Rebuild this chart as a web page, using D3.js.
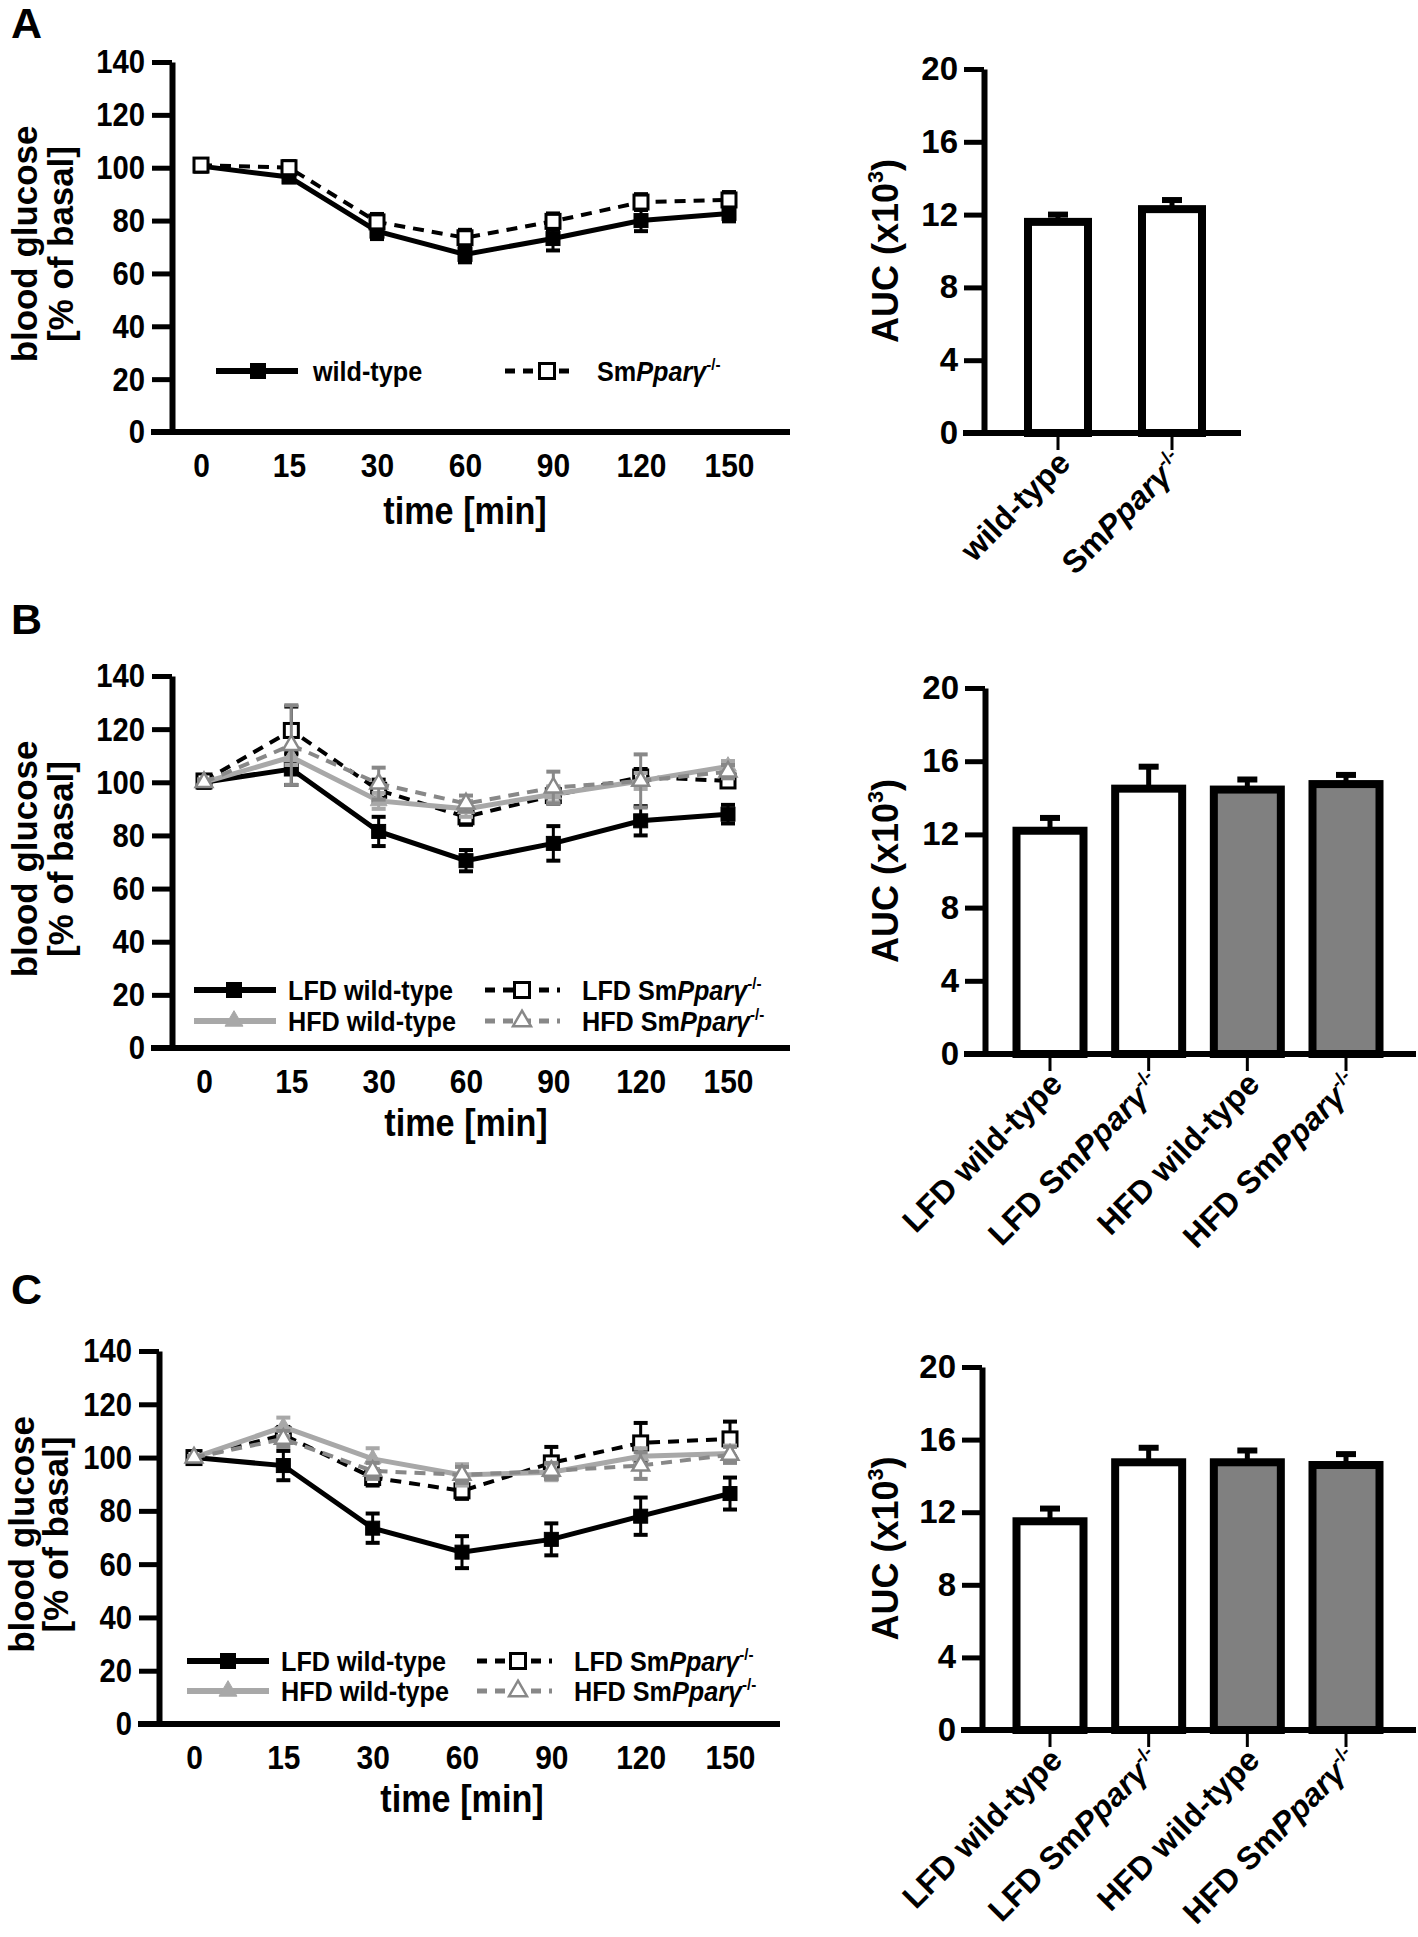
<!DOCTYPE html>
<html><head><meta charset="utf-8">
<script src="https://cdn.jsdelivr.net/npm/d3@7"></script>
<style>
body{margin:0;background:#fff;}
svg text{font-weight:bold;fill:#000;font-family:"Liberation Sans",Arial,sans-serif;}
</style></head><body>
<svg id="c" width="1418" height="1937" xmlns="http://www.w3.org/2000/svg"></svg>
<script>
// ---------- data ----------
const timeCats = ["0","15","30","60","90","120","150"];
const glucoseTicks = [0,20,40,60,80,100,120,140];
const aucTicks = [0,4,8,12,16,20];

// Panel A time course
const aWT    = [100.6, 96.5, 76.0, 67.2, 73.2, 80.0, 82.7];
const aWTerr = [1.0, 2.0, 3.0, 3.0, 4.5, 4.0, 3.0];
const aKO    = [101.0, 100.0, 79.5, 73.5, 79.7, 87.0, 87.8];
const aKOerr = [1.0, 2.5, 3.0, 3.0, 3.0, 3.0, 3.0];

// Panel B time course
const bLFDwt    = [100.0, 105.0, 81.5, 70.5, 77.0, 85.5, 88.0];
const bLFDwtErr = [1.0, 6.0, 5.5, 4.0, 6.5, 5.5, 3.5];
const bLFDko    = [100.5, 119.5, 97.0, 87.0, 95.0, 102.0, 100.5];
const bLFDkoErr = [1.0, 9.0, 4.0, 3.0, 3.0, 3.0, 2.0];
const bHFDwt    = [100.0, 109.5, 93.0, 90.0, 95.5, 100.5, 106.0];
const bHFDwtErr = [1.0, 3.0, 3.0, 3.0, 3.0, 3.0, 2.0];
const bHFDko    = [100.0, 114.0, 99.5, 92.0, 98.0, 100.5, 104.0];
const bHFDkoErr = [1.0, 15.0, 6.0, 3.0, 6.0, 10.0, 2.5];

// Panel C time course
const cLFDwt    = [100.0, 97.0, 73.5, 64.5, 69.3, 78.0, 86.5];
const cLFDwtErr = [0.5, 5.5, 5.5, 6.0, 6.0, 7.0, 6.0];
const cLFDko    = [100.0, 108.5, 92.5, 87.5, 98.0, 105.5, 107.0];
const cLFDkoErr = [0.5, 3.0, 3.0, 3.0, 6.0, 7.5, 6.5];
const cHFDwt    = [100.0, 111.5, 99.5, 93.5, 94.5, 100.5, 101.5];
const cHFDwtErr = [0.5, 3.5, 4.0, 4.0, 3.0, 3.0, 3.0];
const cHFDko    = [100.0, 107.0, 95.0, 93.5, 95.0, 97.0, 101.0];
const cHFDkoErr = [0.5, 3.0, 3.0, 3.0, 3.0, 5.0, 3.0];

// AUC bars
const aucCatsA = ["wild-type", "SmPparγ-/-"];
const aucA     = [11.6, 12.3];
const aucAerr  = [0.4, 0.5];
const aucCats4 = ["LFD wild-type", "LFD SmPparγ-/-", "HFD wild-type", "HFD SmPparγ-/-"];
const aucB     = [12.2, 14.5, 14.45, 14.75];
const aucBerr  = [0.7, 1.2, 0.55, 0.5];
const aucC     = [11.5, 14.75, 14.75, 14.6];
const aucCerr  = [0.7, 0.8, 0.65, 0.6];

// ---------- styles ----------
const ST = {
  wt:   {color:"#000", dash:null, marker:"square", fill:"#000", mcolor:"#000", width:5},
  ko:   {color:"#000", dash:"11,8", marker:"square", fill:"#fff", mcolor:"#000", width:4},
  hwt:  {color:"#a8a8a8", dash:null, marker:"triangle", fill:"#a8a8a8", mcolor:"#a8a8a8", width:5},
  hko:  {color:"#888888", dash:"11,8", marker:"triangle", fill:"#fff", mcolor:"#888888", width:4}
};

const svg = d3.select("#c");

function koLabel(sel, prefix){
  if(prefix) sel.append("tspan").text(prefix);
  sel.append("tspan").text("Sm");
  sel.append("tspan").attr("font-style","italic").text("Pparγ");
  sel.append("tspan").attr("font-size","0.6em").attr("dy","-0.65em").text("-/-");
}
function writeLabel(sel, name){
  const m = name.match(/^(.*?)SmPparγ-\/-$/);
  if(m){ koLabel(sel, m[1]); } else sel.text(name);
}
// text with horizontal condensation
function ctext(g, x, y, size, sx, rot, anchor){
  return g.append("text").attr("font-size",size).attr("text-anchor",anchor||"start")
    .attr("transform",`translate(${x},${y}) rotate(${rot||0}) scale(${sx},1)`);
}

function marker(g, type, cx, cy, st, s){
  if(type==="square"){
    g.append("rect").attr("x",cx-s/2).attr("y",cy-s/2).attr("width",s).attr("height",s)
      .attr("fill",st.fill).attr("stroke",st.mcolor).attr("stroke-width",st.fill==="#fff"?3:1);
  } else {
    g.append("path").attr("d",d3.symbol(d3.symbolTriangle, s*s*0.62)())
      .attr("transform",`translate(${cx},${cy})`)
      .attr("fill",st.fill).attr("stroke",st.mcolor).attr("stroke-width",st.fill==="#fff"?2.5:1);
  }
}

function linePanel(cfg){
  const g = svg.append("g");
  const x = d3.scalePoint().domain(timeCats).range(cfg.xr);
  const y = d3.scaleLinear().domain([0,140]).range(cfg.yr);
  const y0 = y(0);
  // x axis line
  g.append("line").attr("x1",cfg.ax-21).attr("x2",cfg.xEnd).attr("y1",y0).attr("y2",y0)
    .attr("stroke","#000").attr("stroke-width",6);
  // y axis
  const ya = g.append("g").attr("transform",`translate(${cfg.ax},0)`)
    .call(d3.axisLeft(y).tickValues(glucoseTicks).tickSize(20).tickSizeOuter(0).tickPadding(5));
  ya.select(".domain").attr("stroke-width",6).attr("stroke","#000");
  ya.selectAll(".tick line").attr("stroke-width",5).attr("stroke","#000");
  ya.selectAll(".tick text").attr("font-size",34).attr("fill","#000").attr("font-weight","bold")
    .attr("font-family","Liberation Sans, Arial, sans-serif")
    .attr("x",0).attr("transform","translate(-27,0) scale(0.86,1)");
  // x tick labels
  const xa = g.append("g").attr("transform",`translate(0,${y0+21})`)
    .call(d3.axisBottom(x).tickSize(0).tickPadding(0));
  xa.select(".domain").remove();
  xa.selectAll(".tick text").attr("font-size",34).attr("fill","#000").attr("font-weight","bold")
    .attr("font-family","Liberation Sans, Arial, sans-serif").attr("transform","scale(0.88,1)");
  // titles
  ctext(g, (cfg.xr[0]+cfg.xr[1])/2, y0+cfg.tOff, 38, 0.9, 0, "middle").text("time [min]");
  const yc = (cfg.yr[0]+cfg.yr[1])/2 - 3;
  ctext(g, cfg.t1x, yc, 36, 0.97, -90, "middle").text("blood glucose");
  ctext(g, cfg.t2x, yc, 36, 0.97, -90, "middle").text("[% of basal]");
  // series
  cfg.series.forEach(s=>{
    const st = ST[s.style];
    const pts = timeCats.map((c,i)=>({c, v:s.v[i], e:s.e[i]}));
    const ln = d3.line().x(d=>x(d.c)).y(d=>y(d.v));
    g.append("path").attr("d",ln(pts)).attr("fill","none").attr("stroke",st.color)
      .attr("stroke-width",st.width).attr("stroke-dasharray",st.dash);
    pts.forEach(d=>{
      const cx = x(d.c);
      g.append("line").attr("x1",cx).attr("x2",cx).attr("y1",y(d.v-d.e)).attr("y2",y(d.v+d.e))
        .attr("stroke",st.mcolor).attr("stroke-width",3);
      [d.v-d.e, d.v+d.e].forEach(v=>g.append("line").attr("x1",cx-7).attr("x2",cx+7)
        .attr("y1",y(v)).attr("y2",y(v)).attr("stroke",st.mcolor).attr("stroke-width",4));
    });
    pts.forEach(d=>marker(g, st.marker, x(d.c), y(d.v), st, 14));
  });
  // legend
  cfg.legend.forEach(L=>{
    const st = ST[L.style];
    g.append("line").attr("x1",L.x1).attr("x2",L.x2).attr("y1",L.y).attr("y2",L.y)
      .attr("stroke",st.color).attr("stroke-width",st.width+1).attr("stroke-dasharray",st.dash?"10,8":null);
    marker(g, st.marker, L.m, L.y, st, 15);
    const t = ctext(g, L.tx, L.y+10, 28, 0.9, 0, "start");
    writeLabel(t, L.name);
  });
}

function barPanel(cfg){
  const g = svg.append("g");
  const x = d3.scalePoint().domain(cfg.cats).range(cfg.xr);
  const y = d3.scaleLinear().domain([0,20]).range(cfg.yr);
  const y0 = y(0);
  g.append("line").attr("x1",cfg.ax-21).attr("x2",cfg.xEnd).attr("y1",y0).attr("y2",y0)
    .attr("stroke","#000").attr("stroke-width",6);
  const ya = g.append("g").attr("transform",`translate(${cfg.ax},0)`)
    .call(d3.axisLeft(y).tickValues(aucTicks).tickSize(20).tickSizeOuter(0).tickPadding(6));
  ya.select(".domain").attr("stroke-width",6).attr("stroke","#000");
  ya.selectAll(".tick line").attr("stroke-width",5).attr("stroke","#000");
  ya.selectAll(".tick text").attr("font-size",33).attr("fill","#000").attr("font-weight","bold")
    .attr("font-family","Liberation Sans, Arial, sans-serif");
  // bars
  cfg.cats.forEach((c,i)=>{
    const cx = x(c), v = cfg.v[i], e = cfg.e[i];
    g.append("line").attr("x1",cx).attr("x2",cx).attr("y1",y(v)).attr("y2",y(v+e))
      .attr("stroke","#000").attr("stroke-width",5);
    g.append("line").attr("x1",cx-10).attr("x2",cx+10).attr("y1",y(v+e)).attr("y2",y(v+e))
      .attr("stroke","#000").attr("stroke-width",6);
    g.append("rect").attr("x",cx-cfg.bw/2).attr("y",y(v)).attr("width",cfg.bw).attr("height",y0-y(v))
      .attr("fill",cfg.fills[i]).attr("stroke","#000").attr("stroke-width",8);
    g.append("line").attr("x1",cx).attr("x2",cx).attr("y1",y0).attr("y2",y0+17)
      .attr("stroke","#000").attr("stroke-width",3);
    const t = ctext(g, cx+14, y0+32, 32, 1, -45, "end");
    writeLabel(t, c);
  });
  const yc = (cfg.yr[0]+cfg.yr[1])/2;
  const t = ctext(g, cfg.tx, yc, 36, 1, -90, "middle");
  t.append("tspan").text("AUC (x10");
  t.append("tspan").attr("font-size","0.6em").attr("dy","-0.7em").text("3");
  t.append("tspan").attr("dy","0.42em").text(")");
}

// panel letters
[["A",38],["B",634],["C",1304]].forEach(([l,yy])=>{
  svg.append("text").attr("font-size",43).attr("x",11).attr("y",yy).text(l);
});

linePanel({ax:172, xr:[201,729], yr:[432,62], xEnd:790, tOff:92, t1x:37, t2x:73,
  series:[{v:aWT,e:aWTerr,style:"wt"},{v:aKO,e:aKOerr,style:"ko"}],
  legend:[{style:"wt",x1:216,x2:298,m:258,y:371,tx:313,name:"wild-type"},
          {style:"ko",x1:505,x2:577,m:547,y:371,tx:597,name:"SmPparγ-/-"}]});

linePanel({ax:172, xr:[204,728], yr:[1048,676], xEnd:790, tOff:88, t1x:37, t2x:73,
  series:[{v:bLFDwt,e:bLFDwtErr,style:"wt"},{v:bLFDko,e:bLFDkoErr,style:"ko"},
          {v:bHFDwt,e:bHFDwtErr,style:"hwt"},{v:bHFDko,e:bHFDkoErr,style:"hko"}],
  legend:[{style:"wt",x1:194,x2:276,m:234,y:990,tx:288,name:"LFD wild-type"},
          {style:"ko",x1:485,x2:560,m:522,y:990,tx:582,name:"LFD SmPparγ-/-"},
          {style:"hwt",x1:194,x2:276,m:234,y:1021,tx:288,name:"HFD wild-type"},
          {style:"hko",x1:485,x2:560,m:522,y:1021,tx:582,name:"HFD SmPparγ-/-"}]});

linePanel({ax:159, xr:[194,730], yr:[1724,1351], xEnd:780, tOff:88, t1x:34, t2x:68,
  series:[{v:cLFDwt,e:cLFDwtErr,style:"wt"},{v:cLFDko,e:cLFDkoErr,style:"ko"},
          {v:cHFDwt,e:cHFDwtErr,style:"hwt"},{v:cHFDko,e:cHFDkoErr,style:"hko"}],
  legend:[{style:"wt",x1:187,x2:269,m:228,y:1661,tx:281,name:"LFD wild-type"},
          {style:"ko",x1:477,x2:552,m:518,y:1661,tx:574,name:"LFD SmPparγ-/-"},
          {style:"hwt",x1:187,x2:269,m:228,y:1691,tx:281,name:"HFD wild-type"},
          {style:"hko",x1:477,x2:552,m:518,y:1691,tx:574,name:"HFD SmPparγ-/-"}]});

barPanel({ax:984, xr:[1058,1172], yr:[433,69], xEnd:1241, bw:60, tx:898,
  cats:aucCatsA, v:aucA, e:aucAerr, fills:["#fff","#fff"]});
barPanel({ax:985, xr:[1050,1346], yr:[1054,688], xEnd:1416, bw:67, tx:898,
  cats:aucCats4, v:aucB, e:aucBerr, fills:["#fff","#fff","#808080","#808080"]});
barPanel({ax:982, xr:[1050,1346], yr:[1730,1367], xEnd:1416, bw:67, tx:898,
  cats:aucCats4, v:aucC, e:aucCerr, fills:["#fff","#fff","#808080","#808080"]});
</script>
</body></html>
